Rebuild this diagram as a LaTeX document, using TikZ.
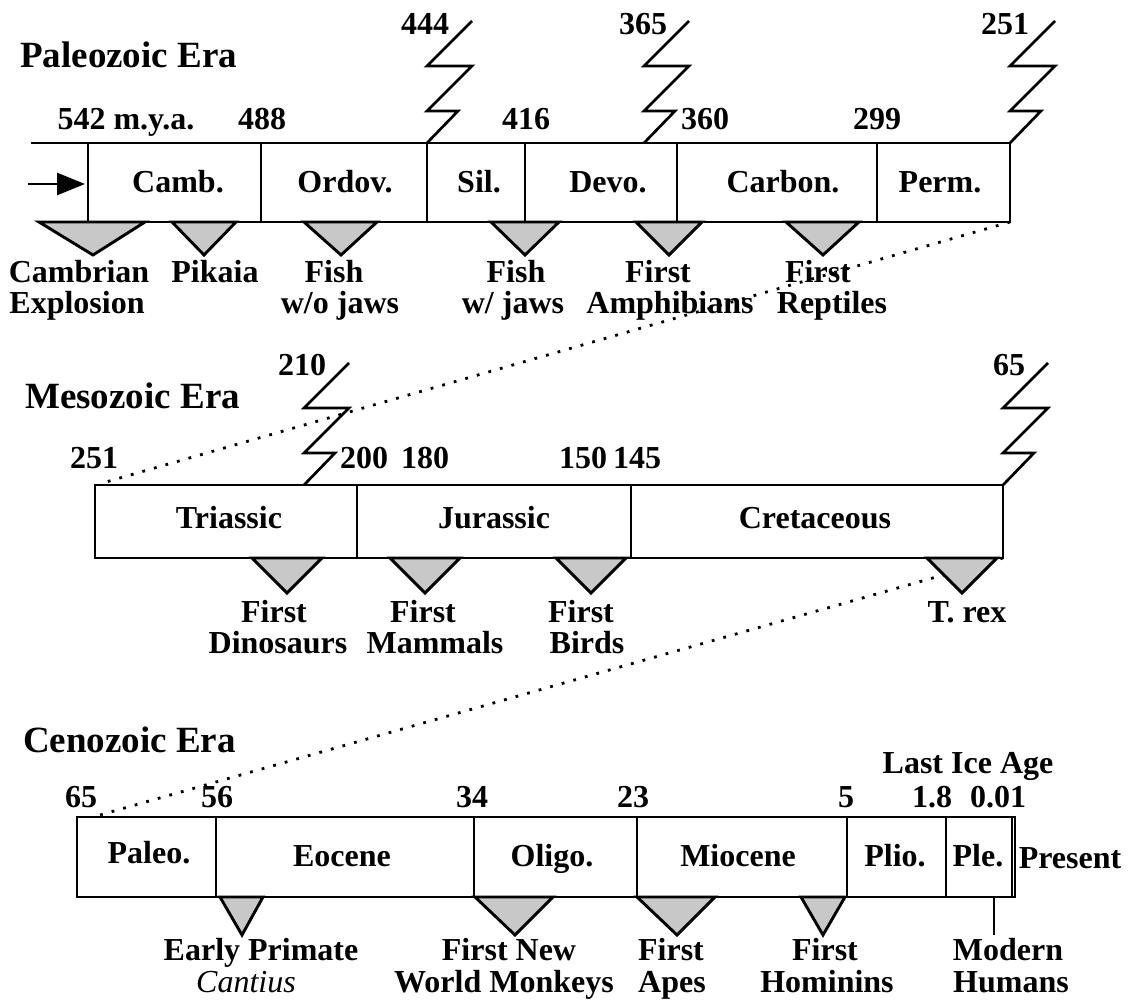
\documentclass[tikz,border=0pt]{standalone}
\usepackage{fontspec}
\setmainfont{Liberation Serif}
\usetikzlibrary{arrows.meta}
\definecolor{triG}{RGB}{200,200,200}
\newcommand\lblfont{\fontsize{32}{38}\selectfont\bfseries}
\newcommand\ttlfont{\fontsize{37}{44}\selectfont\bfseries}
\begin{document}
\begin{tikzpicture}[x=1pt,y=-1pt,
  lbl/.style={font=\lblfont, inner sep=0pt, anchor=base},
  ttl/.style={font=\ttlfont, inner sep=0pt, anchor=base west},
  edge/.style={line width=2.9pt, line join=miter},
  brk/.style={line width=2.7pt, line join=miter},
  tri/.style={fill=triG, draw=black, line width=2.9pt, line join=miter},
  dots/.style={line width=2.8pt, dash pattern=on 2.8pt off 9.2pt},
  tick/.style={line width=2.9pt}]
\useasboundingbox (0,0) rectangle (1128,1003);

% ================= Paleozoic =================
\node[ttl] (tPal) at (20,68) {Paleozoic Era};
\coordinate (pTL) at (31,143);
\coordinate (pTR) at (1010,143);
\coordinate (pBR) at (1010,222);
\coordinate (pBL) at (88,222);
\coordinate (p444) at (427,143);
\coordinate (p365) at (644,143);
\coordinate (p251) at (1010,143);
% dotted zoom line to Mesozoic
\coordinate (mDot) at (99,484);
\draw[dots] (pBR) -- (mDot);
\draw[edge] (pTL) -- (pTR) -- (pBR) -- (pBL);
\foreach \x in {88,261,427,525,677,877} \draw[edge] (\x,143) -- (\x,222);
\coordinate (arS) at (28,184);
\coordinate (arE) at (85,184);
\draw[edge,-{Triangle[length=28pt,width=22pt]}] (arS) -- (arE);
\foreach \c in {p444,p365,p251}
  \draw[brk] (\c) -- ++(31,-32) -- ++(-31,0) -- ++(45,-45) -- ++(-45,0) -- ++(45,-45);
\node[lbl] (camb) at (178,193) {Camb.};
\node[lbl] (ordo) at (345,193) {Ordov.};
\node[lbl] (sil) at (479,193) {Sil.};
\node[lbl] (devo) at (608,193) {Devo.};
\node[lbl] (carb) at (783,193) {Carbon.};
\node[lbl] (perm) at (940,193) {Perm.};
\node[lbl] (n542) at (126,130) {542 m.y.a.};
\node[lbl] (n488) at (262,130) {488};
\node[lbl] (n416) at (526,130) {416};
\node[lbl] (n360) at (705,130) {360};
\node[lbl] (n299) at (877,130) {299};
\node[lbl] (n444) at (425,35) {444};
\node[lbl] (n365) at (643,35) {365};
\node[lbl] (n251) at (1005,35) {251};
% triangles
\filldraw[tri] (39,222) -- (145,222) -- (93,255) -- cycle;
\filldraw[tri] (172,222) -- (236,222) -- (204,255) -- cycle;
\filldraw[tri] (304,222) -- (377,222) -- (341,255) -- cycle;
\filldraw[tri] (491,222) -- (559,222) -- (525,255) -- cycle;
\filldraw[tri] (636,222) -- (702,222) -- (669,255) -- cycle;
\filldraw[tri] (786,222) -- (859,222) -- (823,255) -- cycle;
\node[lbl] (e1a) at (79,283) {Cambrian};
\node[lbl] (e1b) at (77,314) {Explosion};
\node[lbl] (e2a) at (215,283) {Pikaia};
\node[lbl] (e3a) at (334,283) {Fish};
\node[lbl] (e3b) at (340,314) {w/o jaws};
\node[lbl] (e4a) at (516,283) {Fish};
\node[lbl] (e4b) at (513,314) {w/ jaws};
\node[lbl] (e5a) at (658,283) {First};
\node[lbl] (e5b) at (670,314) {Amphibians};
\node[lbl] (e6a) at (818,283) {First};
\node[lbl] (e6b) at (832,314) {Reptiles};

% ================= Mesozoic =================
\node[ttl] (tMes) at (25,408) {Mesozoic Era};
\coordinate (mTL) at (95,485);
\coordinate (mBR) at (1003,558);
\coordinate (m210) at (304,485);
\coordinate (m65) at (1003,485);
\coordinate (cDot) at (100,815);
\draw[dots] (mBR) -- (cDot);
\draw[edge] (mTL) rectangle (mBR);
\foreach \x in {357,631} \draw[edge] (\x,485) -- (\x,558);
\foreach \c in {m210,m65}
  \draw[brk] (\c) -- ++(31,-32) -- ++(-31,0) -- ++(45,-45) -- ++(-45,0) -- ++(45,-45);
\node[lbl] (tria) at (229,528) {Triassic};
\node[lbl] (jura) at (494,528) {Jurassic};
\node[lbl] (cret) at (815,528) {Cretaceous};
\node[lbl] (m251) at (94,468) {251};
\node[lbl] (m200) at (364,468) {200};
\node[lbl] (m180) at (425,468) {180};
\node[lbl] (m150) at (583,468) {150};
\node[lbl] (m145) at (637,468) {145};
\node[lbl] (mn210) at (302,375) {210};
\node[lbl] (mn65) at (1009,375) {65};
\filldraw[tri] (252,558) -- (322,558) -- (287,593) -- cycle;
\filldraw[tri] (390,558) -- (460,558) -- (425,593) -- cycle;
\filldraw[tri] (556,558) -- (626,558) -- (591,593) -- cycle;
\filldraw[tri] (927,558) -- (997,558) -- (962,593) -- cycle;
\node[lbl] (f1a) at (274,622) {First};
\node[lbl] (f1b) at (278,653) {Dinosaurs};
\node[lbl] (f2a) at (423,622) {First};
\node[lbl] (f2b) at (435,653) {Mammals};
\node[lbl] (f3a) at (581,622) {First};
\node[lbl] (f3b) at (587,653) {Birds};
\node[lbl] (f4a) at (967,622) {T. rex};

% ================= Cenozoic =================
\node[ttl] (tCen) at (23,752) {Cenozoic Era};
\coordinate (cTL) at (77,817);
\coordinate (cBR) at (1015,897);
\draw[edge] (cTL) rectangle (cBR);
\foreach \x in {216,474,637,847,946} \draw[edge] (\x,817) -- (\x,897);
\draw[line width=2pt] (1011.5,817) -- (1011.5,897);
\node[lbl] (pale) at (149,863) {Paleo.};
\node[lbl] (eoce) at (342,866) {Eocene};
\node[lbl] (olig) at (552,866) {Oligo.};
\node[lbl] (mioc) at (738,866) {Miocene};
\node[lbl] (plio) at (895,866) {Plio.};
\node[lbl] (plei) at (978,866) {Ple.};
\node[lbl] (pres) at (1070,868) {Present};
\node[lbl] (c65) at (81,807) {65};
\node[lbl] (c56) at (217,807) {56};
\node[lbl] (c34) at (472,807) {34};
\node[lbl] (c23) at (633,807) {23};
\node[lbl] (c5) at (846,807) {5};
\node[lbl] (c18) at (932,807) {1.8};
\node[lbl] (c001) at (998,807) {0.01};
\node[lbl] (lia) at (968,773) {Last Ice Age};
\filldraw[tri] (220,897) -- (263,897) -- (242,935) -- cycle;
\filldraw[tri] (475,897) -- (553,897) -- (515,935) -- cycle;
\filldraw[tri] (637,897) -- (715,897) -- (677,935) -- cycle;
\filldraw[tri] (801,897) -- (845,897) -- (823,935) -- cycle;
\coordinate (mhT) at (994,897);
\coordinate (mhB) at (994,935);
\draw[tick] (mhT) -- (mhB);
\node[lbl] (g1a) at (261,960) {Early Primate};
\node[lbl,font=\fontsize{32}{38}\selectfont\itshape] (g1b) at (246,992) {Cantius};
\node[lbl] (g2a) at (509,960) {First New};
\node[lbl] (g2b) at (504,992) {World Monkeys};
\node[lbl] (g3a) at (671,960) {First};
\node[lbl] (g3b) at (672,992) {Apes};
\node[lbl] (g4a) at (825,960) {First};
\node[lbl] (g4b) at (827,992) {Hominins};
\node[lbl] (g5a) at (1008,960) {Modern};
\node[lbl] (g5b) at (1011,992) {Humans};
\end{tikzpicture}
\end{document}
